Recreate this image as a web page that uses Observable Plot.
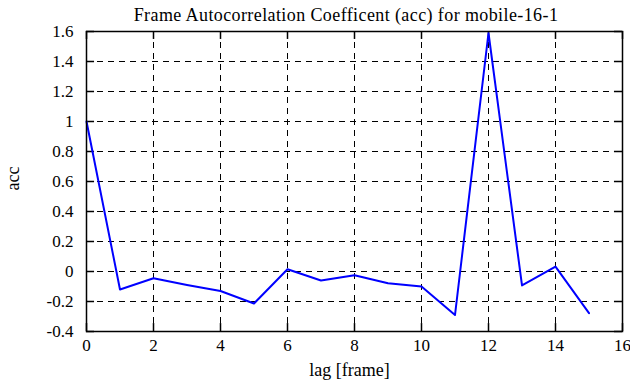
<!DOCTYPE html>
<html><head><meta charset="utf-8">
<script src="https://cdn.jsdelivr.net/npm/d3@7"></script>
<script src="https://cdn.jsdelivr.net/npm/@observablehq/plot@0.6"></script>
<style>body{margin:0;background:#fff}</style>
</head><body><div id="chart"></div>
<script>
const title = "Frame Autocorrelation Coefficent (acc) for mobile-16-1";
const lags = [0,1,2,3,4,5,6,7,8,9,10,11,12,13,14,15];
const acc = [1.0,-0.12,-0.045,-0.09,-0.13,-0.213,0.015,-0.06,-0.025,-0.078,-0.10,-0.29,1.59,-0.093,0.033,-0.278];
const xTicks = [0,2,4,6,8,10,12,14,16];
const yTicks = [-0.4,-0.2,0,0.2,0.4,0.6,0.8,1,1.2,1.4,1.6];
const xLabel = "lag [frame]";
const yLabel = "acc";

const data = lags.map((l,i)=>({lag:l, acc:acc[i]}));
const font = "'Liberation Serif', 'DejaVu Serif', serif";
const tkY = 0.053, tkX = 0.24;

const chart = Plot.plot({
  width: 630, height: 387,
  marginLeft: 86, marginRight: 8, marginTop: 31, marginBottom: 56,
  style: {fontFamily: font, fontSize: "16px", background: "#fff", color: "#000"},
  x: {domain: [0,16], axis: null},
  y: {domain: [-0.4,1.6], axis: null},
  marks: [
    Plot.gridX(xTicks.slice(1,-1), {stroke: "#000", strokeOpacity: 1, strokeDasharray: "6,5", strokeWidth: 1}),
    Plot.gridY(yTicks.slice(1,-1), {stroke: "#000", strokeOpacity: 1, strokeDasharray: "6,5", strokeWidth: 1}),
    Plot.text(xTicks, {x: d=>d, frameAnchor: "bottom", dy: 19, fontSize: 17, fontFamily: font, text: d=>String(d)}),
    Plot.text(yTicks, {y: d=>d, frameAnchor: "left", dx: -13, textAnchor: "end", fontSize: 17, fontFamily: font, text: d=>String(d)}),
    Plot.ruleX(xTicks, {x: d=>d, y1: -0.4, y2: -0.4+tkY, stroke: "#000", strokeWidth: 1.5}),
    Plot.ruleX(xTicks, {x: d=>d, y1: 1.6, y2: 1.6-tkY, stroke: "#000", strokeWidth: 1.5}),
    Plot.ruleY(yTicks, {y: d=>d, x1: 0, x2: tkX, stroke: "#000", strokeWidth: 1.5}),
    Plot.ruleY(yTicks, {y: d=>d, x1: 16, x2: 16-tkX, stroke: "#000", strokeWidth: 1.5}),
    Plot.line(data, {x: "lag", y: "acc", stroke: "#0000ff", strokeWidth: 2}),
    Plot.frame({stroke: "#000", strokeWidth: 1.5}),
    Plot.text([title], {frameAnchor: "top", dy: -23, fontSize: 18, fontFamily: font, dx: -8.5}),
    Plot.text([xLabel], {frameAnchor: "bottom", dy: 44, dx: -5, fontSize: 18, fontFamily: font}),
    Plot.text([yLabel], {frameAnchor: "left", dx: -73, dy: 9, rotate: -90, fontSize: 18, fontFamily: font})
  ]
});
document.getElementById("chart").appendChild(chart);
chart.querySelectorAll("text").forEach(t => {
  if (t.textContent === title) t.style.letterSpacing = "0.4px";
});
</script></body></html>
